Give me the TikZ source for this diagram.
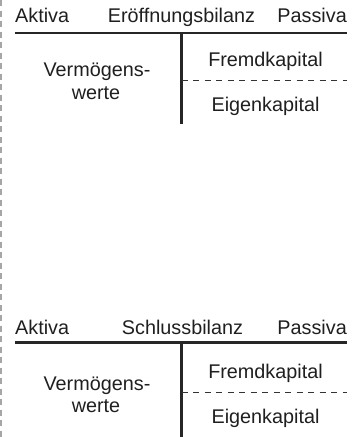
\documentclass[tikz,border=0pt]{standalone}
\usepackage{fontspec}
\setmainfont{Liberation Sans}
\begin{document}
\begin{tikzpicture}[x=1pt,y=-1pt,
  lbl/.style={font=\fontsize{19.8}{24}\selectfont, text=black!88, inner sep=0pt, anchor=base},
  rule/.style={line width=2.2pt, black!85},
  split/.style={line width=1pt, black!80, dash pattern=on 6pt off 5.5pt},
  margin/.style={line width=1.2pt, black!35, dash pattern=on 6pt off 4.5pt}]
\useasboundingbox (0,0) rectangle (355,437);
\coordinate (mt) at (1,0);
\coordinate (mb) at (1,437);
\draw[margin] (mt) -- (mb);
% top account
\node[lbl, anchor=base west] (a1) at (15,22) {Aktiva};
\node[lbl] (t1) at (181.5,22) {Eröffnungsbilanz};
\node[lbl, anchor=base east] (p1) at (347,22) {Passiva};
\coordinate (h1l) at (15,33.3);
\coordinate (h1r) at (347,33.3);
\coordinate (v1t) at (181.5,33.3);
\coordinate (v1b) at (181.5,124);
\coordinate (d1l) at (181.5,80.7);
\coordinate (d1r) at (347,80.7);
\draw[rule] (h1l) -- (h1r);
\draw[rule] (v1t) -- (v1b);
\draw[split] (d1l) -- (d1r);
\node[lbl] (v1) at (97,76.7) {Vermögens-};
\node[lbl] (w1) at (96,99.3) {werte};
\node[lbl] (f1) at (265.5,66.7) {Fremdkapital};
\node[lbl] (e1) at (265.5,111.7) {Eigenkapital};
% bottom account
\node[lbl, anchor=base west] (a2) at (15,334.5) {Aktiva};
\node[lbl] (t2) at (182.5,334.5) {Schlussbilanz};
\node[lbl, anchor=base east] (p2) at (347,334.5) {Passiva};
\coordinate (h2l) at (15,342.5);
\coordinate (h2r) at (347,342.5);
\coordinate (v2t) at (181.5,342.5);
\coordinate (v2b) at (181.5,437);
\coordinate (d2l) at (181.5,392);
\coordinate (d2r) at (347,392);
\draw[rule] (h2l) -- (h2r);
\draw[rule] (v2t) -- (v2b);
\draw[split] (d2l) -- (d2r);
\node[lbl] (v2) at (97,390) {Vermögens-};
\node[lbl] (w2) at (96,412) {werte};
\node[lbl] (f2) at (265.5,378.3) {Fremdkapital};
\node[lbl] (e2) at (265.5,423) {Eigenkapital};
\end{tikzpicture}
\end{document}
